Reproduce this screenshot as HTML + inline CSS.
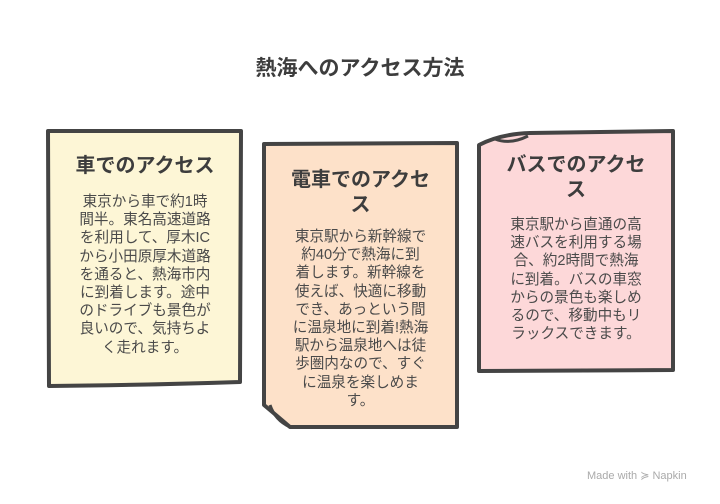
<!DOCTYPE html>
<html><head><meta charset="utf-8"><style>
body{margin:0;width:720px;height:504px;background:#fff;overflow:hidden;position:relative;font-family:"Liberation Sans","Noto Sans CJK JP",sans-serif;color:#444}
.t{position:absolute;text-align:center;white-space:nowrap}
.h{font-weight:bold;font-size:20px;line-height:25px;color:#3d3d3d}
.b{font-size:14.6px;line-height:18.2px;color:#4a4a4a}
</style></head><body>
<svg width="720" height="504" style="position:absolute;left:0;top:0">
<path d="M48,131 L241,131 L240,382 Q150,385 49,386 Z" fill="#fdf6d6" stroke="#444" stroke-width="4" stroke-linejoin="round"/>
<path d="M264,144 L457,143 L457,427 L290,427 Q276,415 264,405 Z" fill="#fde1c9" stroke="#444" stroke-width="4" stroke-linejoin="round"/>
<path d="M270,405 Q275,420 290,427" fill="none" stroke="#444" stroke-width="3"/>
<path d="M479,145 Q500,134 530,133 L673,131 L673,370 L479,371 Z" fill="#fdd8d9" stroke="#444" stroke-width="4" stroke-linejoin="round"/>
<path d="M495,139 Q510,145 528,136" fill="none" stroke="#444" stroke-width="3"/>
</svg>
<div class="t" style="left:0;width:720px;top:52px;font-size:21px;font-weight:bold;color:#3d3d3d">熱海へのアクセス方法</div>
<div class="t h" style="left:48px;width:194px;top:154px">車でのアクセス</div>
<div class="t b" style="left:48px;width:194px;top:193px">東京から車で約1時<br>間半。東名高速道路<br>を利用して、厚木IC<br>から小田原厚木道路<br>を通ると、熱海市内<br>に到着します。途中<br>のドライブも景色が<br>良いので、気持ちよ<br>く走れます。</div>
<div class="t h" style="left:264px;width:193px;top:168px">電車でのアクセ<br>ス</div>
<div class="t b" style="left:264px;width:193px;top:228px">東京駅から新幹線で<br>約40分で熱海に到<br>着します。新幹線を<br>使えば、快適に移動<br>でき、あっという間<br>に温泉地に到着!熱海<br>駅から温泉地へは徒<br>歩圏内なので、すぐ<br>に温泉を楽しめま<br>す。</div>
<div class="t h" style="left:479px;width:194px;top:153px">バスでのアクセ<br>ス</div>
<div class="t b" style="left:479px;width:194px;top:216px">東京駅から直通の高<br>速バスを利用する場<br>合、約2時間で熱海<br>に到着。バスの車窓<br>からの景色も楽しめ<br>るので、移動中もリ<br>ラックスできます。</div>
<div style="position:absolute;left:587px;top:469px;font-size:11px;color:#aaa">Made with ≽ Napkin</div>
</body></html>
